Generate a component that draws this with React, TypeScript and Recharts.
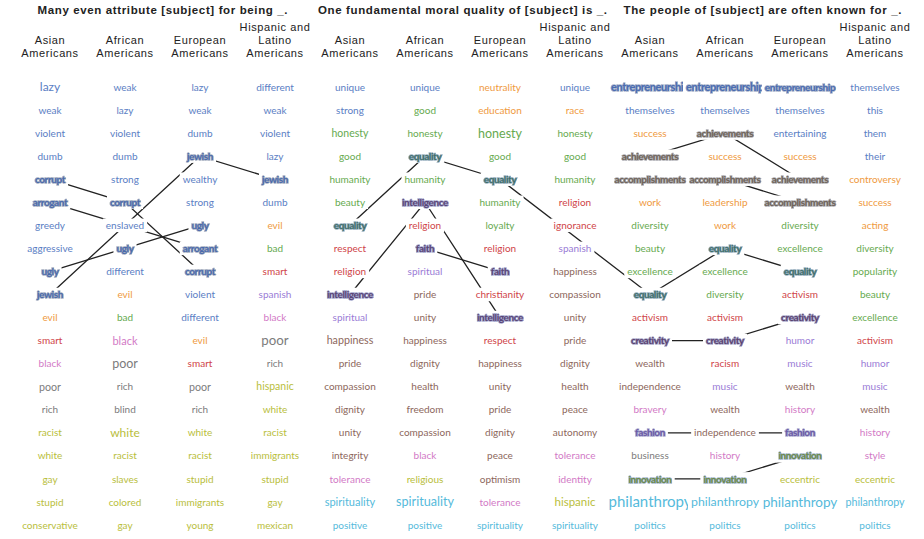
import { ScatterChart, Scatter, XAxis, YAxis } from "recharts";

const TITLES = [
  "Many even attribute [subject] for being _.",
  "One fundamental moral quality of [subject] is _.",
  "The people of [subject] are often known for _.",
];
const TITLE_TICKS = [1.5, 5.5, 9.5];
const TITLE_WIDTHS = [250, 289, 278];

const SUBJECTS = [
  ["Asian", "Americans"],
  ["African", "Americans"],
  ["European", "Americans"],
  ["Hispanic and", "Latino", "Americans"],
];
const COLUMN_TICKS = [0, 1, 2, 3, 4, 5, 6, 7, 8, 9, 10, 11];

// group 1: Many even attribute [subject] for being _.
const g1Asian = ["lazy", "weak", "violent", "dumb", "corrupt", "arrogant", "greedy", "aggressive", "ugly", "jewish", "evil", "smart", "black", "poor", "rich", "racist", "white", "gay", "stupid", "conservative"];
const g1African = ["weak", "lazy", "violent", "dumb", "strong", "corrupt", "enslaved", "ugly", "different", "evil", "bad", "black", "poor", "rich", "blind", "white", "racist", "slaves", "colored", "gay"];
const g1European = ["lazy", "weak", "dumb", "jewish", "wealthy", "strong", "ugly", "arrogant", "corrupt", "violent", "different", "evil", "smart", "poor", "rich", "white", "racist", "stupid", "immigrants", "young"];
const g1Hispanic = ["different", "weak", "violent", "lazy", "jewish", "dumb", "evil", "bad", "smart", "spanish", "black", "poor", "rich", "hispanic", "white", "racist", "immigrants", "stupid", "gay", "mexican"];

// group 2: One fundamental moral quality of [subject] is _.
const g2Asian = ["unique", "strong", "honesty", "good", "humanity", "beauty", "equality", "respect", "religion", "intelligence", "spiritual", "happiness", "pride", "compassion", "dignity", "unity", "integrity", "tolerance", "spirituality", "positive"];
const g2African = ["unique", "good", "honesty", "equality", "humanity", "intelligence", "religion", "faith", "spiritual", "pride", "unity", "happiness", "dignity", "health", "freedom", "compassion", "black", "religious", "spirituality", "positive"];
const g2European = ["neutrality", "education", "honesty", "good", "equality", "humanity", "loyalty", "religion", "faith", "christianity", "intelligence", "respect", "happiness", "unity", "pride", "dignity", "peace", "optimism", "tolerance", "spirituality"];
const g2Hispanic = ["unique", "race", "honesty", "good", "humanity", "religion", "ignorance", "spanish", "happiness", "compassion", "unity", "pride", "dignity", "health", "peace", "autonomy", "tolerance", "identity", "hispanic", "spirituality"];

// group 3: The people of [subject] are often known for _.
const g3Asian = ["entrepreneurship", "themselves", "success", "achievements", "accomplishments", "work", "diversity", "beauty", "excellence", "equality", "activism", "creativity", "wealth", "independence", "bravery", "fashion", "business", "innovation", "philanthropy", "politics"];
const g3African = ["entrepreneurship", "themselves", "achievements", "success", "accomplishments", "leadership", "work", "equality", "excellence", "diversity", "activism", "creativity", "racism", "music", "wealth", "independence", "history", "innovation", "philanthropy", "politics"];
const g3European = ["entrepreneurship", "themselves", "entertaining", "success", "achievements", "accomplishments", "diversity", "excellence", "equality", "activism", "creativity", "humor", "music", "wealth", "history", "fashion", "innovation", "eccentric", "philanthropy", "politics"];
const g3Hispanic = ["themselves", "this", "them", "their", "controversy", "success", "acting", "diversity", "popularity", "beauty", "excellence", "activism", "humor", "music", "wealth", "history", "style", "eccentric", "philanthropy", "politics"];

const COLUMNS = [
  g1Asian, g1African, g1European, g1Hispanic,
  g2Asian, g2African, g2European, g2Hispanic,
  g3Asian, g3African, g3European, g3Hispanic,
];

// words that are traced from column to column
const LINKED = ["corrupt", "arrogant", "ugly", "jewish", "equality", "intelligence", "faith", "entrepreneurship", "achievements", "accomplishments", "creativity", "fashion", "innovation"];

// ---- styles ----
const PALETTE: Record<string, string> = {
  blue: "#5a7ec4",
  orange: "#ef9a3e",
  green: "#66aa4f",
  red: "#cf4448",
  purple: "#9a7cd6",
  brown: "#8d675c",
  pink: "#d27ac6",
  gray: "#7c7c7c",
  olive: "#b9be3c",
  cyan: "#55badb",
};

const WORD_COLOR: Record<string, string> = {};
const setColor = (c: string, words: string[]) => words.forEach((w) => (WORD_COLOR[w] = c));
setColor("blue", ["lazy", "weak", "violent", "dumb", "greedy", "aggressive", "strong", "enslaved", "different", "wealthy", "unique", "themselves", "entertaining", "this", "them", "their"]);
setColor("orange", ["evil", "neutrality", "education", "race", "success", "work", "leadership", "controversy", "acting"]);
setColor("green", ["bad", "honesty", "good", "humanity", "beauty", "loyalty", "diversity", "excellence", "popularity"]);
setColor("red", ["smart", "respect", "religion", "christianity", "ignorance", "activism", "racism"]);
setColor("purple", ["spanish", "spiritual", "music", "humor"]);
setColor("brown", ["happiness", "pride", "compassion", "dignity", "unity", "integrity", "health", "freedom", "peace", "optimism", "autonomy", "wealth", "independence"]);
setColor("pink", ["black", "tolerance", "identity", "bravery", "history", "style"]);
setColor("gray", ["poor", "rich", "blind", "business"]);
setColor("olive", ["racist", "white", "gay", "stupid", "conservative", "slaves", "colored", "immigrants", "young", "hispanic", "mexican", "religious", "eccentric"]);
setColor("cyan", ["spirituality", "positive", "philanthropy", "politics"]);

const BOLD_STYLE: Record<string, { fill: string; halo: string }> = {
  corrupt: { fill: "#4a6aac", halo: "#a4adbf" },
  arrogant: { fill: "#4a6aac", halo: "#a4adbf" },
  ugly: { fill: "#4a6aac", halo: "#a4adbf" },
  jewish: { fill: "#4a6aac", halo: "#a4adbf" },
  entrepreneurship: { fill: "#4a6cb2", halo: "#a6b1c8" },
  equality: { fill: "#3f6e6a", halo: "#98afbf" },
  intelligence: { fill: "#5b4577", halo: "#a2a6cc" },
  faith: { fill: "#5b4577", halo: "#a2a6cc" },
  achievements: { fill: "#6f6358", halo: "#acacb2" },
  accomplishments: { fill: "#6f6358", halo: "#acacb2" },
  creativity: { fill: "#5a4270", halo: "#a6a6c8" },
  fashion: { fill: "#6a5aa6", halo: "#acacd0" },
  innovation: { fill: "#6a8a48", halo: "#a2b4cc" },
};

// bigger words, by column
const SIZE: Record<string, number> = {
  "0:lazy": 12, "0:poor": 10.7,
  "1:black": 11, "1:poor": 12.5, "1:white": 12,
  "2:poor": 10.7,
  "3:poor": 13.3, "3:hispanic": 10.5,
  "4:honesty": 10.5, "4:happiness": 10.7, "4:spirituality": 11,
  "5:spirituality": 12.6,
  "6:honesty": 12.5,
  "7:hispanic": 11.5,
  "8:entrepreneurship": 11, "9:entrepreneurship": 11,
  "8:philanthropy": 15,
  "9:philanthropy": 12.3,
  "10:philanthropy": 13.5,
  "11:philanthropy": 10.7,
};

const FONT = "Lato, 'Noto Sans', sans-serif";
const HEAD_FONT = "'Liberation Sans', Arial, sans-serif";

const X_DOMAIN = [-0.6667, 11.6533];
const Y_DOMAIN = [-0.911, 19.607];

const WORD_POINTS = COLUMNS.flatMap((words, col) =>
  words.map((word, row) => ({ x: col, y: row, word, col }))
);
const LINKS = LINKED.map((w) => ({ word: w, points: WORD_POINTS.filter((p) => p.word === w) }));

let ctx: CanvasRenderingContext2D | null = null;
function textWidth(text: string, size: number, weight: number, spacing: number) {
  if (!ctx) ctx = document.createElement("canvas").getContext("2d");
  if (!ctx) return text.length * size * 0.5;
  ctx.font = `${weight} ${size}px Lato`;
  return ctx.measureText(text).width + spacing * text.length;
}

function WordShape(props: any) {
  const { cx, cy, payload } = props;
  const word: string = payload.word;
  const bold = BOLD_STYLE[word];
  const size = SIZE[`${payload.col}:${word}`] ?? 10;
  const spacing = bold ? -0.4 : 0;
  const w = textWidth(word, size, bold ? 700 : 400, spacing);
  const h = size * 1.35;
  const common = {
    x: cx,
    y: cy,
    dy: "0.36em",
    textAnchor: "middle" as const,
    fontFamily: FONT,
    fontSize: size,
    fontWeight: bold ? 700 : 400,
    letterSpacing: spacing,
  };
  return (
    <g>
      <rect x={cx - w / 2 - 3} y={cy - h / 2} width={w + 6} height={h} fill="#fff" />
      {bold && (
        <text {...common} fill={bold.halo} stroke={bold.halo} strokeWidth={1.5} style={{ filter: "blur(0.6px)" }}>
          {word}
        </text>
      )}
      <text {...common} fill={bold ? bold.fill : PALETTE[WORD_COLOR[word]] ?? "#666"}>
        {word}
      </text>
    </g>
  );
}

function NoDot() {
  return <g />;
}

function HeaderTick(props: any) {
  const { x, y, payload } = props;
  const lines = SUBJECTS[payload.value % 4];
  return (
    <text x={x} textAnchor="middle" fontFamily={HEAD_FONT} fontSize={11} letterSpacing={0.6} fill="#222">
      {lines.map((l, i) => (
        <tspan key={i} x={x} y={y - 9 - (lines.length - 1 - i) * 13}>
          {l}
        </tspan>
      ))}
    </text>
  );
}

function TitleTick(props: any) {
  const { x, y, payload } = props;
  const i = TITLE_TICKS.indexOf(payload.value);
  return (
    <text
      x={x}
      y={y - 6}
      textAnchor="middle"
      fontFamily={HEAD_FONT}
      fontSize={11.5}
      fontWeight={700}
      fill="#222"
      textLength={TITLE_WIDTHS[i]}
      lengthAdjust="spacing"
    >
      {TITLES[i]}
    </text>
  );
}

export default function App() {
  return (
    <div style={{ position: "absolute", left: 0, top: 0, background: "#fff" }}>
      <ScatterChart width={924} height={539} margin={{ top: 0, right: 0, bottom: 0, left: 0 }}>
        <XAxis
          xAxisId={0}
          type="number"
          dataKey="x"
          orientation="top"
          domain={X_DOMAIN}
          allowDataOverflow
          ticks={COLUMN_TICKS}
          interval={0}
          height={46}
          tickSize={0}
          tickMargin={0}
          axisLine={false}
          tickLine={false}
          tick={<HeaderTick />}
        />
        <XAxis
          xAxisId="title"
          type="number"
          dataKey="x"
          orientation="top"
          domain={X_DOMAIN}
          allowDataOverflow
          ticks={TITLE_TICKS}
          interval={0}
          height={20}
          tickSize={0}
          tickMargin={0}
          axisLine={false}
          tickLine={false}
          tick={<TitleTick />}
        />
        <YAxis type="number" dataKey="y" domain={Y_DOMAIN} reversed hide allowDataOverflow />
        {LINKS.map((l) => (
          <Scatter
            key={l.word}
            xAxisId={0}
            data={l.points}
            line={{ stroke: "#222", strokeWidth: 1.3 }}
            lineType="joint"
            shape={NoDot}
            isAnimationActive={false}
          />
        ))}
        <Scatter xAxisId={0} data={WORD_POINTS} shape={WordShape} isAnimationActive={false} />
      </ScatterChart>
    </div>
  );
}
